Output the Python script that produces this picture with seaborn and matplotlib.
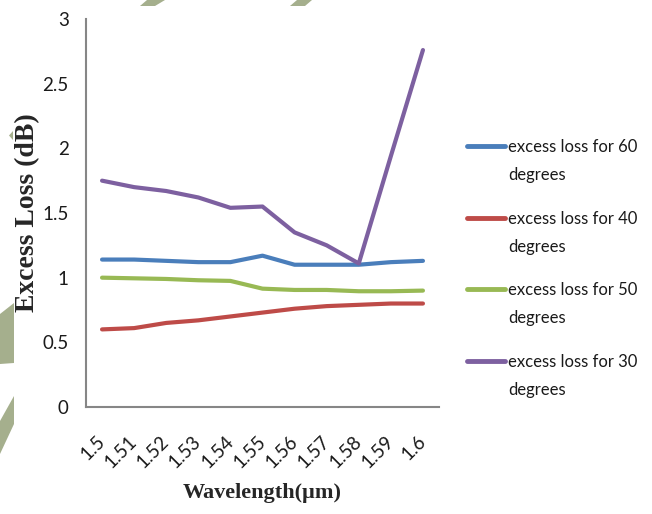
import numpy as np
import pandas as pd
import seaborn as sns
import matplotlib
matplotlib.use("Agg")
import matplotlib.pyplot as plt
from matplotlib.patches import Polygon

# Wavelength sweep (µm) and measured excess loss (dB) for each bend angle
wavelengths = [1.50, 1.51, 1.52, 1.53, 1.54, 1.55, 1.56, 1.57, 1.58, 1.59, 1.60]
tick_labels = ["1.5", "1.51", "1.52", "1.53", "1.54", "1.55", "1.56", "1.57", "1.58", "1.59", "1.6"]
loss_60 = [1.14, 1.14, 1.13, 1.12, 1.12, 1.17, 1.10, 1.10, 1.10, 1.12, 1.13]
loss_40 = [0.60, 0.61, 0.65, 0.67, 0.70, 0.73, 0.76, 0.78, 0.79, 0.80, 0.80]
loss_50 = [1.00, 0.995, 0.99, 0.98, 0.975, 0.915, 0.905, 0.905, 0.895, 0.895, 0.90]
loss_30 = [1.75, 1.70, 1.67, 1.62, 1.54, 1.55, 1.35, 1.25, 1.11, 1.94, 2.76]

series_names = ["excess loss for 60", "excess loss for 40",
                "excess loss for 50", "excess loss for 30"]
series_values = [loss_60, loss_40, loss_50, loss_30]
colors = ["#4a7ebb", "#be4b48", "#98b954", "#7d60a0"]

df = pd.DataFrame({
    "wavelength": np.tile(wavelengths, len(series_names)),
    "loss": np.concatenate(series_values),
    "series": np.repeat(series_names, len(wavelengths)),
})

sns.set_style("white")
plt.rcParams["font.family"] = ["Lato", "DejaVu Sans"]
text_col = "#1a1a1a"

W, H = 652, 514
fig = plt.figure(figsize=(W / 100, H / 100), dpi=100)
ax = fig.add_axes([86 / W, 1 - 407 / H, (439 - 86) / W, (407 - 19) / H])


def px(x, y):
    return (x / W, 1 - y / H)


# faint background ornaments
shade = "#a5af8d"
for pts in [
    [(0, 314), (14, 303), (14, 363), (0, 364)],
    [(14, 396), (14, 424), (0, 454), (0, 421)],
    [(140, 6), (155, 6), (165, 0), (147, 0)],
    [(290, 6), (305, 6), (312, 0), (297, 0)],
    [(13, 131), (13, 140), (9, 135.5)],
]:
    fig.patches.append(Polygon([px(*p) for p in pts], closed=True,
                               transform=fig.transFigure, facecolor=shade,
                               edgecolor="none", zorder=-5))

sns.lineplot(data=df, x="wavelength", y="loss", hue="series",
             hue_order=series_names, palette=colors, linewidth=3,
             ax=ax, legend=False)
for ln in ax.lines:
    ln.set_solid_capstyle("round")
    ln.set_solid_joinstyle("round")

step = 0.01
ax.set_xlim(wavelengths[0] - step / 2, wavelengths[-1] + step / 2)
ax.set_ylim(0, 3)
ax.set_yticks([0, 0.5, 1, 1.5, 2, 2.5, 3])
ax.set_yticklabels(["0", "0.5", "1", "1.5", "2", "2.5", "3"])

bounds = [w - step / 2 for w in wavelengths] + [wavelengths[-1] + step / 2]
ax.set_xticks(bounds)
ax.set_xticklabels([])
ax.set_xticks(wavelengths, minor=True)
ax.set_xticklabels(tick_labels, minor=True, rotation=45, ha="right",
                   va="center", rotation_mode="anchor")

spine_col = "#868686"
for side in ["top", "right"]:
    ax.spines[side].set_visible(False)
for side in ["left", "bottom"]:
    ax.spines[side].set_color(spine_col)
    ax.spines[side].set_linewidth(1.5)

ax.tick_params(axis="both", which="major", direction="out", length=4.5,
               width=1.2, color=spine_col, labelsize=13.5, labelcolor=text_col)
ax.tick_params(axis="y", pad=8)
ax.tick_params(axis="x", which="minor", length=0, pad=23, labelsize=13.5,
               labelcolor=text_col)
ax.grid(False)

serif = {"family": ["Liberation Serif", "DejaVu Serif"], "weight": "bold"}
ax.set_xlabel("Wavelength(µm)", fontdict=serif, fontsize=16)
ax.set_ylabel("Excess Loss (dB)", fontdict=serif, fontsize=20)
ax.xaxis.set_label_coords(0.5, -0.195)
ax.yaxis.set_label_coords(-0.13, 0.5)

legend_size = 12
handles = [plt.Line2D([], [], color=c, linewidth=3.5) for c in colors]
leg = fig.legend(handles, series_names, loc="upper left",
                 bbox_to_anchor=px(467, 139), frameon=False,
                 fontsize=legend_size, handlelength=2.25, handletextpad=0.2,
                 labelspacing=3.34, borderpad=0, borderaxespad=0)
for txt in leg.get_texts():
    txt.set_color(text_col)
    fig.add_artist(plt.Annotation("degrees", xy=(0, 0), xycoords=txt,
                                  xytext=(0, -25), textcoords="offset pixels",
                                  fontsize=legend_size, va="baseline",
                                  ha="left", color=text_col, zorder=10))

fig.savefig("out.png", dpi=100)
